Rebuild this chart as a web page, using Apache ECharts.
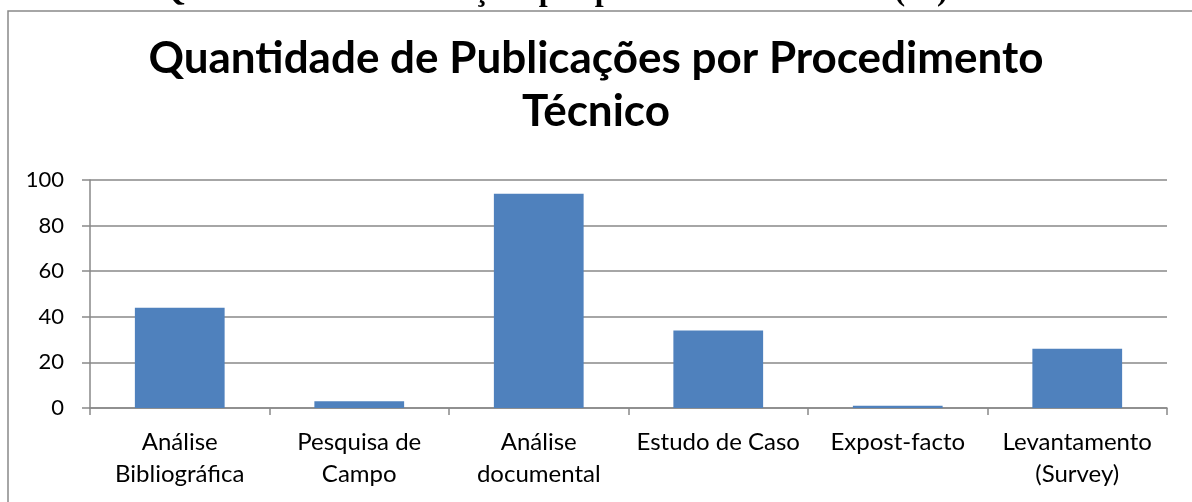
<!DOCTYPE html>
<html>
<head>
<meta charset="utf-8">
<script src="https://cdn.jsdelivr.net/npm/echarts@6/dist/echarts.min.js"></script>
<style>
  html, body { margin: 0; padding: 0; background: #fff; }
  #main { width: 1192px; height: 502px; }
</style>
</head>
<body>
<div id="main"></div>
<script>
const categories = [
  'Análise\nBibliográfica',
  'Pesquisa de\nCampo',
  'Análise\ndocumental',
  'Estudo de Caso',
  'Expost-facto',
  'Levantamento\n(Survey)'
];
const values = [44, 3, 94, 34, 1, 26];
const yTicks = [0, 20, 40, 60, 80, 100];

const caption = 'Gráfico 3 – Quantidade de Publicações por procedimento técnico (%)';
const chartTitle = 'Quantidade de Publicações por Procedimento\nTécnico';

const chart = echarts.init(document.getElementById('main'));

const axisGray = '#898989';

const options = {
  animation: false,
  textStyle: { fontFamily: 'Lato' },
  graphic: [
    {
      type: 'rect',
      shape: { x: 8, y: 11, width: 1300, height: 700 },
      style: { fill: 'none', stroke: axisGray, lineWidth: 1.5 },
      silent: true
    },
    {
      type: 'text',
      left: 0,
      top: -24,
      style: {
        text: caption,
        font: 'bold 32px "Liberation Serif"',
        fill: '#000'
      }
    },
    {
      type: 'text',
      x: 596,
      y: 32,
      style: {
        text: chartTitle,
        font: 'bold 44px Lato',
        fill: '#000',
        align: 'center',
        lineHeight: 53
      }
    }
  ],
  grid: {
    left: 90,
    right: 25,
    top: 180,
    bottom: 94
  },
  xAxis: {
    type: 'category',
    data: categories,
    axisLine: { lineStyle: { color: axisGray, width: 1.5 } },
    axisTick: { show: true, length: 7, lineStyle: { color: axisGray, width: 1.5 } },
    axisLabel: {
      color: '#000',
      fontSize: 24,
      lineHeight: 32,
      margin: 18,
      interval: 0
    }
  },
  yAxis: {
    type: 'value',
    min: yTicks[0],
    max: yTicks[yTicks.length - 1],
    interval: 20,
    axisLine: { show: true, lineStyle: { color: axisGray, width: 1.5 } },
    axisTick: { show: true, length: 8, lineStyle: { color: axisGray, width: 1.5 } },
    splitLine: { lineStyle: { color: axisGray, width: 1.5 } },
    axisLabel: { color: '#000', fontSize: 22, margin: 26 }
  },
  series: [
    {
      type: 'bar',
      data: values,
      barWidth: '50%',
      itemStyle: { color: '#4F81BD' }
    }
  ]
};

chart.setOption(options);
</script>
</body>
</html>
